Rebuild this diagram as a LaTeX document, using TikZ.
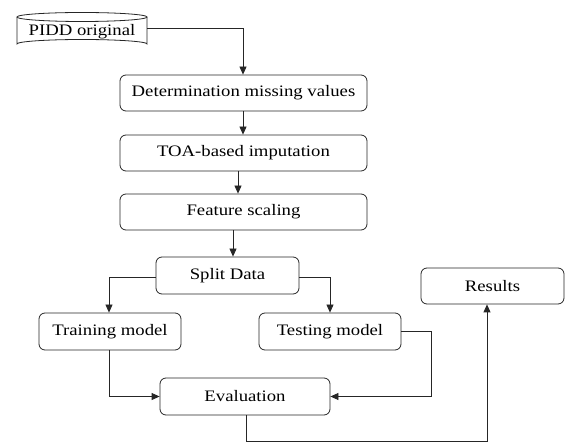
\documentclass[tikz,border=0pt]{standalone}
\usepackage{fontspec}
\setmainfont{Liberation Serif}[FakeStretch=1.17]
\usetikzlibrary{arrows.meta}
\begin{document}
\begin{tikzpicture}[x=1pt,y=-1pt,
  box/.style={draw=black!85,line width=0.8pt,rounded corners=6pt,inner sep=0pt,
    font=\fontsize{16}{18}\selectfont},
  conn/.style={draw=black!85,line width=0.8pt,-{Triangle[length=8pt,width=7pt]}}]
\useasboundingbox (0,0) rectangle (567,443);
% cylinder
\draw[black!85,line width=0.8pt,fill=white] (17,17) -- (17,44) arc[start angle=180,end angle=360,x radius=65,y radius=4.5] -- (147,17);
\draw[black!85,line width=0.8pt] (82,17) ellipse[x radius=65,y radius=4.5];
\node[inner sep=0pt,minimum width=130pt,minimum height=26pt,font=\fontsize{16}{18}\selectfont] (pidd) at (82,32) {PIDD original};
\coordinate (pout) at (147,28);
% boxes
\node[box,minimum width=247pt,minimum height=36pt] (det) at (243.5,93) {Determination missing values};
\node[box,minimum width=247pt,minimum height=36pt] (toa) at (243.5,153) {TOA-based imputation};
\node[box,minimum width=247pt,minimum height=36pt] (feat) at (243.5,212) {Feature scaling};
\node[box,minimum width=143pt,minimum height=37pt] (split) at (227.5,275.5) {Split Data};
\node[box,minimum width=142pt,minimum height=37pt] (train) at (110,331.5) {Training model};
\node[box,minimum width=142pt,minimum height=37pt] (test) at (330,331.5) {Testing model};
\node[box,minimum width=143pt,minimum height=36pt] (res) at (492.5,286) {Results};
\node[box,minimum width=170pt,minimum height=37pt] (eval) at (245,396.5) {Evaluation};
% connectors
\draw[conn] (pout) -| (det.north -| 243,0);
\draw[conn] (det.south -| 243,0) -- (toa.north -| 243,0);
\draw[conn] (toa.south -| 238,0) -- (feat.north -| 238,0);
\draw[conn] (feat.south -| 233,0) -- (split.north -| 233,0);
\draw[conn] (split.west |- 0,277) -| (train.north -| 109,0);
\draw[conn] (split.east |- 0,277) -| (test.north);
\draw[conn] (train.south -| 109,0) |- (eval.west);
\draw[conn] (test.east) -| (431,396.5) -- (eval.east);
\coordinate (bot) at (246,441);
\draw[conn] (eval.south -| bot) -- (bot) -| (res.south -| 487,0);
\end{tikzpicture}
\end{document}
